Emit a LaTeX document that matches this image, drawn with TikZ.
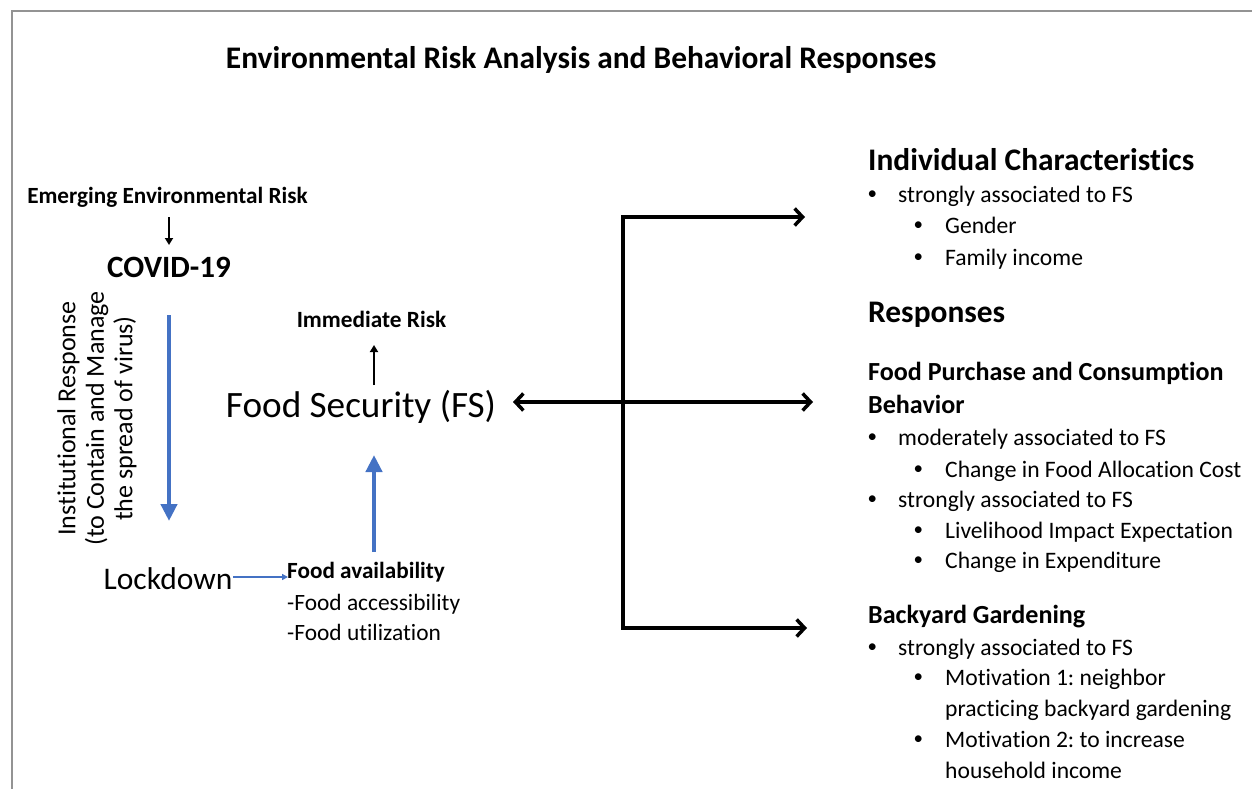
\documentclass[tikz,border=0pt]{standalone}
\usepackage{fontspec}
\setmainfont{Carlito}[Ligatures=NoCommon]
\usetikzlibrary{arrows.meta}
\definecolor{blu}{HTML}{4472C4}
\frenchspacing
\newcommand{\fs}[1]{\fontsize{#1}{#1}\selectfont}
\newcommand{\bua}{\makebox[30.7pt][l]{\raisebox{2.3pt}{\fs{19}\textbullet}}}
\newcommand{\bub}{\makebox[31.7pt][l]{\raisebox{2.3pt}{\fs{19}\textbullet}}}
\begin{document}
\begin{tikzpicture}[x=1pt,y=-1pt,
  t/.style={inner sep=0pt, anchor=base west},
  c/.style={inner sep=0pt, anchor=base},
  body/.style={t, font=\fs{23.6}\frenchspacing},
  bluarr/.style={draw=blu, line width=4.5pt, -{Triangle[length=17pt,width=16pt]}},
  blkarr/.style={draw=black, line width=2.2pt, -{Triangle[length=7pt,width=8pt]}},
  bigarr/.style={draw=black, line width=3.5pt, -{Straight Barb[length=8pt,width=17pt]}},
  bigdbl/.style={draw=black, line width=3.5pt, {Straight Barb[length=8pt,width=17pt]}-{Straight Barb[length=8pt,width=17pt]}}
]
\useasboundingbox (0,0) rectangle (1252,789);
\draw[gray!85, line width=2pt] (12,789) -- (12,11) -- (1252,11);

% title
\node[c, font=\fs{31.4}\bfseries] (title) at (581,69) {Environmental Risk Analysis and Behavioral Responses};

% left chain
\node[c, font=\fs{23.2}\bfseries] (emerg) at (167.5,203) {Emerging Environmental Risk};
\node[c, font=\fs{31}\bfseries] (covid) at (169,277) {COVID-19};
\node[c, font=\fs{31.5}] (lock) at (168,589) {Lockdown};
\node[inner sep=0pt, anchor=center, rotate=90, align=center, font=\fontsize{26}{28.5}\selectfont] (inst) at (97,418.5)
  {Institutional Response\\(to Contain and Manage\\the spread of virus)};

\node[t, font=\fs{23.2}\bfseries] (fa) at (287,578) {Food availability};
\node[t, font=\fs{23.4}] (facc) at (287,610) {-Food accessibility};
\node[t, font=\fs{23.4}] (futil) at (287,640) {-Food utilization};

\node[c, font=\fs{37.2}] (fs) at (361,417) {Food Security (FS)};
\node[c, font=\fs{23.3}\bfseries] (imm) at (371.5,327) {Immediate Risk};

% right block
\node[t, font=\fs{31.4}\bfseries] (ic) at (868,170) {Individual Characteristics};
\node[body] (ic1) at (867.3,202) {\bua strongly associated to FS};
\node[body] (ic2) at (913.3,233) {\bub Gender};
\node[body] (ic3) at (913.3,265) {\bub Family income};

\node[t, font=\fs{31.4}\bfseries] (resp) at (868,322) {Responses};

\node[t, font=\fs{26.1}\bfseries] (fp) at (868,380) {Food Purchase and Consumption};
\node[t, font=\fs{26.1}\bfseries] (fp2) at (868,413) {Behavior};
\node[body] (fp3) at (867.3,445) {\bua moderately associated to FS};
\node[body] (fp4) at (913.3,477) {\bub Change in Food Allocation Cost};
\node[body] (fp5) at (867.3,507) {\bua strongly associated to FS};
\node[body] (fp6) at (913.3,538) {\bub Livelihood Impact Expectation};
\node[body] (fp7) at (913.3,568) {\bub Change in Expenditure};

\node[t, font=\fs{26.1}\bfseries] (bg) at (868,623) {Backyard Gardening};
\node[body] (bg1) at (867.3,655) {\bua strongly associated to FS};
\node[body] (bg2) at (913.3,685) {\bub Motivation 1: neighbor};
\node[body] (bg3) at (945,716) {practicing backyard gardening};
\node[body] (bg4) at (913.3,747) {\bub Motivation 2: to increase};
\node[body] (bg5) at (945,778) {household income};

% connectors
\coordinate (eb) at (169,217);
\coordinate (ce) at (169,245);
\draw[blkarr] (eb) -- (ce);
\coordinate (cb) at (169,315);
\coordinate (le) at (169,521);
\draw[bluarr] (cb) -- (le);
\coordinate (lr) at (233,577);
\coordinate (fal) at (288,577);
\draw[draw=blu, line width=1.5pt, -{Triangle[length=6pt,width=6pt]}] (lr) -- (fal);
\coordinate (fab) at (374,552);
\coordinate (fse) at (374,455);
\draw[bluarr] (fab) -- (fse);
\coordinate (fsb) at (374,385);
\coordinate (ime) at (374,345);
\draw[blkarr] (fsb) -- (ime);

\coordinate (br) at (623,402);
\coordinate (t1) at (805,217);
\coordinate (t2) at (813,402);
\coordinate (t3) at (807,628);
\coordinate (fsr) at (513,402);
\draw[bigdbl] (fsr) -- (t2);
\draw[bigarr, line join=miter] (br) |- (t1);
\draw[bigarr, line join=miter] (br) |- (t3);
\end{tikzpicture}
\end{document}
